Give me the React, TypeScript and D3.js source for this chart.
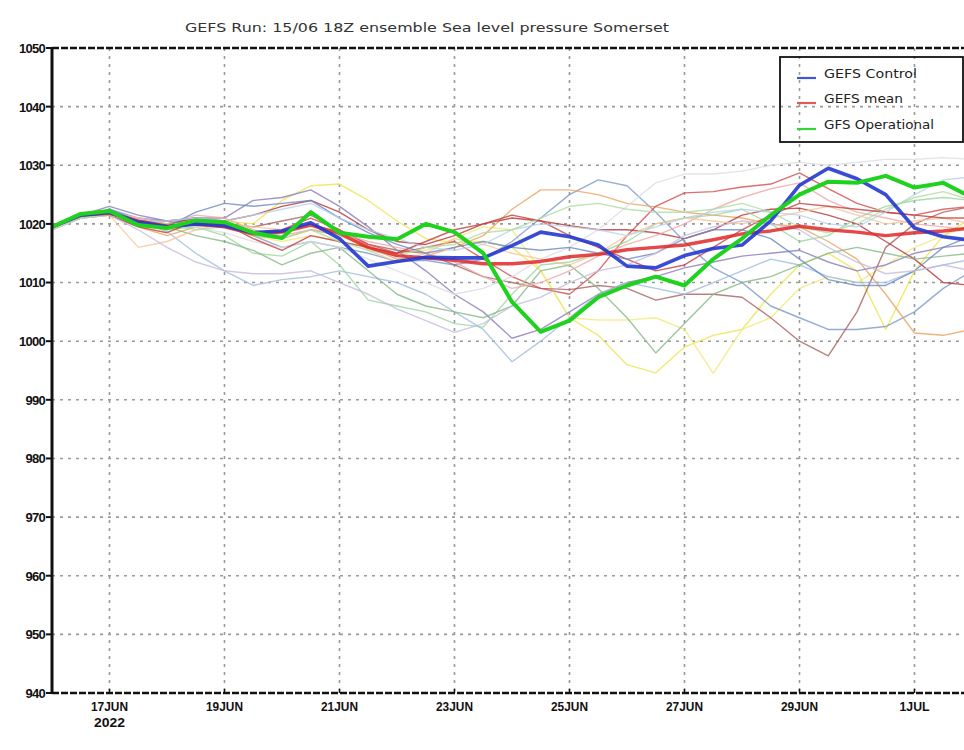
import React from "react";
import * as d3 from "d3";

// ---- DATA (12-hourly from 16 JUN 2022 00Z) ----
const title = "GEFS Run: 15/06 18Z ensemble Sea level pressure Somerset";
const yTicks = [940, 950, 960, 970, 980, 990, 1000, 1010, 1020, 1030, 1040, 1050];
const xTickDates = ["2022-06-17", "2022-06-19", "2022-06-21", "2022-06-23", "2022-06-25", "2022-06-27", "2022-06-29", "2022-07-01"];
const xTickLabels = ["17JUN", "19JUN", "21JUN", "23JUN", "25JUN", "27JUN", "29JUN", "1JUL"];
const yearLabel = "2022";
const legendLabels = ["GEFS Control", "GEFS mean", "GFS Operational"];

const gfsOperational = [1019.5, 1021.7, 1022.2, 1019.8, 1019.3, 1020.6, 1020.3, 1018.5, 1017.6, 1022, 1018.5, 1017.8, 1017.4, 1020, 1018.6, 1015, 1006.7, 1001.6, 1003.5, 1007.5, 1009.5, 1011, 1009.5, 1014, 1017.5, 1021.5, 1025, 1027.2, 1027, 1028.2, 1026.2, 1027, 1024.5];
const gefsControl = [1019.5, 1021.5, 1022, 1020.3, 1019.5, 1020, 1019.7, 1018.5, 1018.8, 1020.2, 1017.5, 1012.8, 1013.6, 1014.3, 1014.2, 1014.2, 1016.3, 1018.6, 1017.8, 1016.4, 1012.8, 1012.5, 1014.6, 1015.8, 1016.4, 1020.5, 1026.6, 1029.5, 1027.7, 1025, 1019.3, 1017.8, 1017.2];
const gefsMean = [1019.5, 1021.5, 1021.8, 1020.5, 1019.6, 1020, 1019.5, 1018.3, 1018.6, 1019.8, 1018.4, 1016, 1014.6, 1014.2, 1013.8, 1013.2, 1013.2, 1013.6, 1014.4, 1014.8, 1015.6, 1016, 1016.4, 1017.3, 1018.3, 1018.8, 1019.6, 1019, 1018.6, 1018, 1018.5, 1018.8, 1019.3];

const member01 = [1019.5, 1021, 1021.5, 1020.5, 1020, 1020.8, 1020.5, 1020, 1024, 1026.5, 1026.8, 1024, 1020.5, 1017.5, 1016.8, 1017, 1016, 1012, 1004, 1001, 996, 994.6, 999, 1001, 1002, 1008, 1013, 1015, 1012, 1002, 1012, 1018, 1021];
const member02 = [1019.5, 1021.5, 1022, 1020, 1019, 1020, 1019.5, 1018, 1017, 1018, 1017, 1016, 1015, 1015.5, 1017.5, 1019.5, 1019, 1012, 1004, 1003.6, 1003.6, 1004, 1002, 994.5, 1002, 1004, 1009, 1011, 1010, 1013, 1016, 1018, 1020];
const member03 = [1019.5, 1021, 1022.5, 1021, 1020.5, 1020, 1019.5, 1018, 1016, 1017, 1016, 1015, 1013.6, 1013.8, 1013, 1014, 1017, 1021, 1025, 1027.5, 1026.5, 1022, 1017, 1012.5, 1010, 1006, 1004, 1002, 1002, 1002.5, 1005, 1009, 1012];
const member04 = [1019, 1021, 1021.5, 1019.5, 1018, 1019.5, 1020, 1018, 1017.5, 1019, 1018, 1016, 1014, 1014.5, 1016, 1018, 1022.5, 1025.8, 1025.8, 1025, 1023.5, 1022.9, 1022, 1021.5, 1021, 1020, 1019.5, 1017, 1014, 1008, 1001.4, 1001, 1002];
const member05 = [1019.5, 1021.5, 1021.8, 1020.5, 1020.5, 1021, 1020, 1019.5, 1020.5, 1021.5, 1019, 1016.5, 1015.5, 1015, 1013, 1011, 1010, 1009, 1008.8, 1009.5, 1009, 1007, 1008, 1008, 1007.5, 1004, 1000, 997.5, 1005, 1016, 1020, 1022, 1023];
const member06 = [1019.5, 1021.5, 1022, 1020.5, 1020, 1021, 1019.5, 1018.5, 1019, 1021, 1019, 1016.5, 1015, 1016, 1017, 1014, 1011, 1009, 1008, 1012, 1018, 1023, 1025.3, 1025.5, 1026.3, 1026.8, 1028.7, 1026, 1023.5, 1022, 1021.5, 1022.5, 1023];
const member07 = [1019.5, 1021.5, 1022, 1020.5, 1020, 1021, 1020.5, 1021.5, 1023, 1024, 1022, 1019, 1017, 1016.5, 1018, 1020, 1021, 1020.5, 1019.7, 1019, 1019, 1018.5, 1017.5, 1019, 1021.5, 1022.5, 1022.7, 1021.5, 1020, 1017, 1014, 1010, 1009.5];
const member08 = [1019.5, 1021.5, 1023, 1021.5, 1020.5, 1021, 1021, 1024, 1024.5, 1025.8, 1023, 1019.5, 1015.5, 1012, 1008, 1005, 1000.5, 1002, 1005, 1008, 1010, 1011, 1012.5, 1013.5, 1014.5, 1015, 1015.5, 1013.5, 1012, 1013, 1015, 1016, 1016.5];
const member09 = [1019.5, 1021, 1021.5, 1020.5, 1018.7, 1015, 1012, 1009.5, 1010.5, 1011, 1012, 1011, 1010, 1008, 1005, 1002, 996.5, 1000, 1004, 1008, 1010, 1009, 1008, 1010, 1012, 1014, 1013, 1011, 1010, 1010, 1012, 1013, 1014];
const member10 = [1019.5, 1021, 1021.5, 1020, 1019, 1019.5, 1018, 1015, 1014.5, 1017, 1013, 1007, 1006, 1005, 1003, 1002.4, 1008, 1013, 1013.5, 1015, 1017, 1020, 1021, 1021.5, 1022.5, 1020, 1017, 1018, 1021, 1023, 1024, 1024.5, 1024];
const member11 = [1019.5, 1021, 1022, 1020.5, 1019.5, 1018, 1017, 1015.5, 1013, 1015, 1016, 1012, 1008, 1006, 1005, 1004, 1006, 1012, 1013, 1009, 1004, 998, 1003, 1008, 1010, 1011, 1013, 1015, 1016, 1015, 1014, 1014.5, 1015];
const member12 = [1019, 1021, 1022, 1021, 1020, 1019.5, 1018.5, 1017, 1016, 1017, 1016, 1014, 1012, 1010, 1008, 1009, 1011, 1014, 1016, 1019, 1023, 1027, 1028.5, 1028.5, 1029, 1030, 1030.5, 1030, 1030.5, 1031, 1031, 1031.3, 1031];
const member13 = [1019.5, 1021.5, 1022, 1021, 1020, 1021.5, 1021, 1019, 1018, 1019, 1018.5, 1017, 1016, 1015, 1013.5, 1011, 1009, 1010, 1012, 1014.5, 1016.5, 1018, 1020, 1022.5, 1024.5, 1026, 1027, 1024, 1022, 1021, 1020, 1019.5, 1019];
const member14 = [1019, 1021, 1021.5, 1016, 1017, 1019, 1020, 1019.5, 1019, 1020, 1018.5, 1015.5, 1013.5, 1015, 1017.5, 1016.5, 1015, 1014, 1013, 1015, 1018, 1020, 1021, 1020.5, 1020, 1021, 1022, 1023, 1021.5, 1020, 1020.5, 1021, 1020];
const member15 = [1019.5, 1021.5, 1021.5, 1019.5, 1018.5, 1020.5, 1020, 1017.5, 1015.5, 1018, 1017, 1016, 1015, 1017, 1019, 1020, 1021.5, 1020.5, 1018, 1016, 1014, 1012, 1013, 1016, 1019, 1021.5, 1023.5, 1023, 1022.5, 1022, 1021.5, 1021, 1021];
const member16 = [1019.5, 1021, 1022.5, 1020.5, 1019.5, 1022, 1023.5, 1023, 1023.5, 1024, 1021, 1018.5, 1016.5, 1015, 1016, 1017, 1016, 1015.5, 1016, 1015, 1014, 1015, 1017.5, 1019, 1019, 1017.5, 1014, 1010.5, 1009.5, 1009.5, 1012, 1016, 1018];
const member17 = [1019, 1021, 1021.5, 1020.5, 1020.5, 1021, 1020.5, 1021.5, 1022.5, 1023.5, 1021, 1019, 1017.5, 1016, 1015.5, 1016.5, 1019, 1020, 1019.5, 1019, 1018, 1019.5, 1021, 1022, 1022.5, 1022, 1021.5, 1020, 1019.5, 1022, 1025, 1027.5, 1028];
const member18 = [1019.5, 1021, 1021.5, 1019, 1016, 1013.5, 1012, 1011.5, 1011.5, 1012, 1010, 1008, 1005.5, 1003.5, 1001.5, 1003, 1006, 1007.5, 1010, 1012, 1013, 1015, 1018, 1019.5, 1020.5, 1020, 1019, 1016, 1013.5, 1011.5, 1012, 1013, 1012];
const member19 = [1019.5, 1021, 1021.5, 1020.5, 1020, 1019, 1019.5, 1018, 1017.5, 1019, 1017, 1015.5, 1014.5, 1016, 1016.5, 1018.5, 1019, 1021, 1023, 1023.5, 1022.5, 1022, 1022, 1022.5, 1023.5, 1022, 1019.5, 1018.5, 1020, 1022.5, 1024.5, 1025.5, 1024];

const members = [member01, member02, member03, member04, member05, member06, member07, member08, member09, member10, member11, member12, member13, member14, member15, member16, member17, member18, member19];
const memberColors = ["#eee54a", "#f2e87a", "#7a98cc", "#eaa25a", "#a86060", "#d44a4a", "#b83232", "#8a7cba", "#9fbbdc", "#9ad69a", "#86b886", "#dcdce4", "#f0a8a8", "#f5c596", "#c43c3c", "#6a88c0", "#b6d2ea", "#c4bcdc", "#acdca4"];

const startMs = Date.UTC(2022, 5, 16, 0);
const stepMs = 12 * 3600 * 1000;

export default function App() {
  const W = 964, H = 750;
  const left = 52, right = 964, top = 48, bottom = 693;
  const pxPerDay = 57.5;
  const x = d3.scaleUtc()
    .domain([new Date(startMs), new Date(startMs + ((right - left) / pxPerDay) * 86400000)])
    .range([left, right]);
  const y = d3.scaleLinear().domain([940, 1050]).range([bottom, top]);
  const times = gfsOperational.map((_, i) => new Date(startMs + i * stepMs));
  const line = d3.line<number>().x((_, i) => x(times[i])).y((v) => y(v));
  const xTicks = xTickDates.map((s) => new Date(s + "T00:00:00Z"));
  const gridColor = "#9a9a9a";

  return (
    <svg width={W} height={H} style={{ position: "absolute", left: 0, top: 0, background: "#fff" }}
      fontFamily="'Liberation Sans', Arial, sans-serif">
      <defs>
        <clipPath id="plotClip">
          <rect x={left} y={top - 2} width={right - left} height={bottom - top + 4} />
        </clipPath>
      </defs>
      <rect x={0} y={0} width={W} height={H} fill="#fff" />
      <text x={185} y={32} fontSize={12.5} fill="#333" fontFamily="'DejaVu Sans', sans-serif"
        textLength={484} lengthAdjust="spacingAndGlyphs">{title}</text>

      {/* grid */}
      {yTicks.filter((t) => t > 940 && t < 1050).map((t) => (
        <line key={"gy" + t} x1={left} x2={right} y1={y(t)} y2={y(t)} stroke={gridColor}
          strokeWidth={1.6} strokeDasharray="3,5" />
      ))}
      {xTicks.map((d, i) => (
        <line key={"gx" + i} x1={x(d)} x2={x(d)} y1={top} y2={bottom} stroke={gridColor}
          strokeWidth={1.6} strokeDasharray="3,5" />
      ))}

      {/* members */}
      <g clipPath="url(#plotClip)" fill="none" strokeLinejoin="round">
        {members.map((m, i) => (
          <path key={"m" + i} d={line(m) || ""} stroke={memberColors[i]} strokeWidth={1.4} opacity={0.8} />
        ))}
        <path d={line(gefsMean) || ""} stroke="#e02828" strokeWidth={3.4} opacity={0.85} />
        <path d={line(gefsControl) || ""} stroke="#2238d0" strokeWidth={3.6} opacity={0.9} />
        <path d={line(gfsOperational) || ""} stroke="#1ed21e" strokeWidth={4} />
      </g>

      {/* frame */}
      <line x1={left} x2={right} y1={top} y2={top} stroke="#111" strokeWidth={2.4} strokeDasharray="7,2" />
      <line x1={left} x2={right} y1={bottom} y2={bottom} stroke="#111" strokeWidth={2.4} strokeDasharray="7,2" />
      <line x1={left} x2={left} y1={top - 1} y2={bottom + 1} stroke="#111" strokeWidth={3} />

      {/* y axis */}
      {yTicks.map((t) => (
        <g key={"yt" + t}>
          <line x1={left - 6} x2={left} y1={y(t)} y2={y(t)} stroke="#111" strokeWidth={2} />
          <text x={left - 7} y={y(t)} dy="0.38em" textAnchor="end" fontSize={13} fontWeight="bold"
            fill="#111" letterSpacing={-0.7}>{t}</text>
        </g>
      ))}

      {/* x axis */}
      {xTicks.map((d, i) => (
        <g key={"xt" + i}>
          <line x1={x(d)} x2={x(d)} y1={bottom - 4} y2={bottom} stroke="#111" strokeWidth={1.5} />
          <text x={x(d)} y={711} textAnchor="middle" fontSize={13} fontWeight="bold" fill="#111"
            textLength={xTickLabels[i].length > 4 ? 37 : 30} lengthAdjust="spacingAndGlyphs">{xTickLabels[i]}</text>
        </g>
      ))}
      <text x={x(xTicks[0])} y={727} textAnchor="middle" fontSize={13} fontWeight="bold" fill="#111"
        textLength={31} lengthAdjust="spacingAndGlyphs">{yearLabel}</text>

      {/* legend */}
      <rect x={780} y={57} width={183} height={85} fill="none" stroke="#111" strokeWidth={1.8} />
      {legendLabels.map((lab, i) => {
        const ly = [78, 103, 129][i];
        const col = ["#4058d0", "#e05a5a", "#3ad23a"][i];
        const tl = [93, 79, 110][i];
        return (
          <g key={"lg" + i}>
            <line x1={797} x2={816} y1={ly} y2={ly} stroke={col} strokeWidth={2.2} />
            <text x={824} y={ly} fontSize={12.5} fill="#222" fontFamily="'DejaVu Sans', sans-serif"
              textLength={tl} lengthAdjust="spacingAndGlyphs">{lab}</text>
          </g>
        );
      })}
    </svg>
  );
}
